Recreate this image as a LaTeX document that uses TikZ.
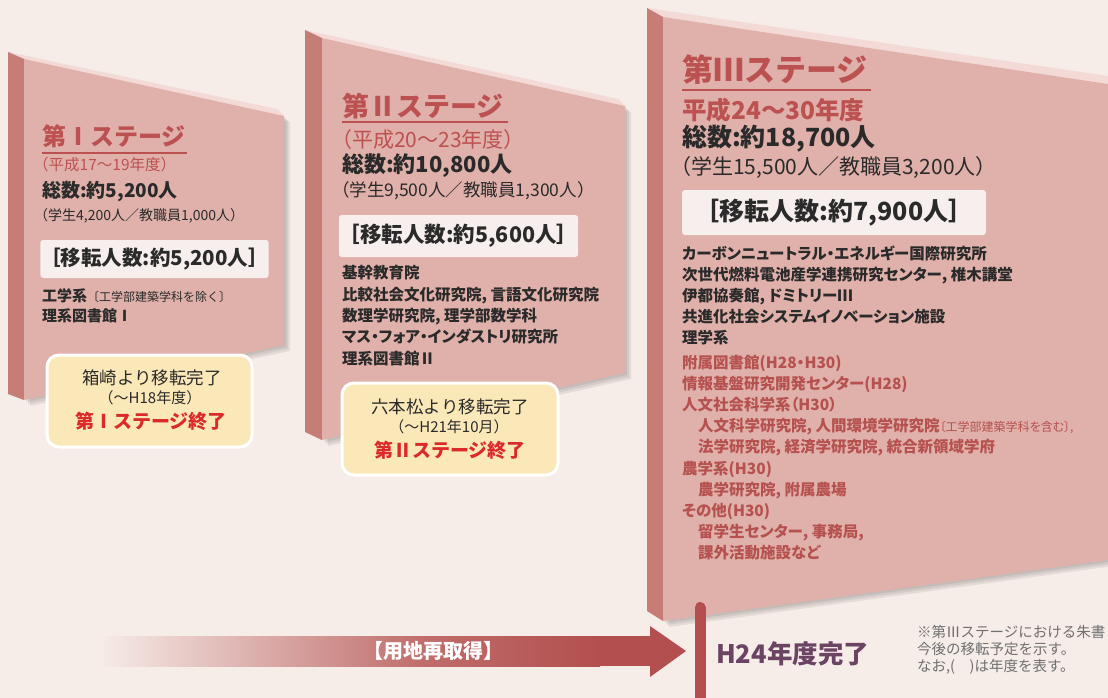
\documentclass[tikz,border=0pt]{standalone}
\usepackage{fontspec}
\setmainfont{Noto Sans CJK JP}
\usetikzlibrary{positioning}

\definecolor{bgpink}{HTML}{F6ECE8}
\definecolor{facepink}{HTML}{E0B0AA}
\definecolor{sidepink}{HTML}{C57D75}
\definecolor{rimpink}{HTML}{F3DAD6}
\definecolor{titlered}{HTML}{BC5151}
\definecolor{planred}{HTML}{B5514F}
\definecolor{inkdark}{HTML}{2A2A2A}
\definecolor{boxwhite}{HTML}{F7EFED}
\definecolor{doneyellow}{HTML}{FBE8B8}
\definecolor{donered}{HTML}{DA2A2A}
\definecolor{arrowred}{HTML}{B34F4F}
\definecolor{arrowmid}{HTML}{C06E6C}
\definecolor{barred}{HTML}{B54E4F}
\definecolor{finplum}{HTML}{6B4363}
\definecolor{notegray}{HTML}{707070}

\newcommand{\fsz}[2]{\fontsize{#1}{#2}\selectfont}
\newcommand{\prop}{\addfontfeatures{RawFeature=+palt}}

\begin{document}
\begin{tikzpicture}[x=1pt, y=-1pt, every node/.style={inner sep=0pt},
  side/.style={fill=sidepink}, front/.style={fill=facepink}, rim/.style={fill=rimpink},
  drop/.style={fill=black, opacity=0.07},
  txt/.style={anchor=west, text=inkdark},
  heading/.style={anchor=west, text=titlered},
  uline/.style={draw=titlered, line width=1.6pt},
  movebox/.style={fill=boxwhite, rounded corners=3pt, text=inkdark},
  donebox/.style={fill=doneyellow, draw=white, line width=3pt, rounded corners=12pt},
  donetxt/.style={text=inkdark},
  listblk/.style={anchor=north west, align=left, text=inkdark},
  planblk/.style={listblk, text=planred}]

\useasboundingbox (0,0) rectangle (1108,698);
\fill[bgpink] (0,0) rectangle (1108,698);

% slabs
\foreach \s in {2,4,6} {
  \fill[drop, shift={(\s,\s)}] (24,59) -- (284,116) -- (284,345) -- (24,400) -- cycle;
  \fill[drop, shift={(\s,\s)}] (322,38) -- (625,106) -- (625,373) -- (322,440) -- cycle;
  \fill[drop, shift={(\s,\s)}] (663,17) -- (1108,84) -- (1108,560) -- (663,621) -- cycle;
}
\fill[rim] (8,52) -- (277,109) -- (284,116) -- (24,59) -- cycle;
\fill[side] (8,52) -- (24,59) -- (24,400) -- (8,394) -- cycle;
\fill[front] (24,59) -- (284,116) -- (284,345) -- (24,400) -- cycle;

\fill[rim] (305,30) -- (618,99) -- (625,106) -- (322,38) -- cycle;
\fill[side] (305,30) -- (322,38) -- (322,440) -- (305,432) -- cycle;
\fill[front] (322,38) -- (625,106) -- (625,373) -- (322,440) -- cycle;

\fill[rim] (647,8) -- (1108,76) -- (1108,84) -- (663,17) -- cycle;
\fill[side] (647,8) -- (663,17) -- (663,621) -- (647,611) -- cycle;
\fill[front] (663,17) -- (1108,84) -- (1108,560) -- (663,621) -- cycle;

% stage I
\node[heading, font=\bfseries\fsz{24}{24}] (s1title) at (42,136) {第Ⅰステージ};
\draw[uline] (42,153) -- (187,153);
\node[heading, font=\fsz{15.5}{15.5}] (s1years) at (33,164.5) {（平成17～19年度）};
\node[txt, font=\bfseries\fsz{19}{19}] (s1total) at (42,191.5) {総数:約5,200人};
\node[txt, font=\fsz{14}{14}] (s1split) at (34,215.5) {（学生4,200人／教職員1,000人）};
\node[movebox, minimum width=225pt, minimum height=38pt, font=\bfseries\fsz{20.5}{20.5}] (s1move) at (154.5,259) {［移転人数:約5,200人］};
\node[listblk, font=\bfseries\fsz{15}{20}] (s1list) at (42,288) {工学系{\mdseries\fsz{12}{20}〔工学部建築学科を除く〕}\\理系図書館Ⅰ};
\node[donebox, minimum width=205pt, minimum height=92pt] (s1done) at (149.5,401) {};
\node[donetxt, font=\fsz{17.5}{17.5}] (s1from) at (152,378) {箱崎より移転完了};
\node[donetxt, font=\fsz{15}{15}] (s1when) at (150,398) {（～H18年度）};
\node[donetxt, text=donered, font=\bfseries\fsz{19}{19}] (s1end) at (151,421) {第Ⅰステージ終了};

% stage II
\node[heading, font=\bfseries\fsz{27}{27}] (s2title) at (342,106.5) {第Ⅱステージ};
\draw[uline] (342,122) -- (508,122);
\node[heading, font=\fsz{21}{21}] (s2years) at (331,140) {（平成20～23年度）};
\node[txt, font=\bfseries\fsz{22}{22}] (s2total) at (342,166) {総数:約10,800人};
\node[txt, font=\fsz{17.5}{17.5}] (s2split) at (332,190.5) {（学生9,500人／教職員1,300人）};
\node[movebox, minimum width=233pt, minimum height=42pt, font=\bfseries\fsz{21.5}{21.5}] (s2move) at (458.5,236) {［移転人数:約5,600人］};
\node[listblk, font=\bfseries\prop\fsz{15.5}{21.3}] (s2list) at (342,265.5) {基幹教育院\\比較社会文化研究院, 言語文化研究院\\数理学研究院, 理学部数学科\\マス・フォア・インダストリ研究所\\理系図書館Ⅱ};
\node[donebox, minimum width=216pt, minimum height=92pt] (s2done) at (450,429) {};
\node[donetxt, font=\fsz{17.5}{17.5}] (s2from) at (450,407) {六本松より移転完了};
\node[donetxt, font=\fsz{15}{15}] (s2when) at (449,427) {（～H21年10月）};
\node[donetxt, text=donered, font=\bfseries\fsz{19}{19}] (s2end) at (450,450) {第Ⅱステージ終了};

% stage III
\node[heading, font=\bfseries\fsz{31}{31}] (s3title) at (682,70) {第Ⅲステージ};
\draw[uline] (682,90) -- (871,90);
\node[heading, font=\bfseries\fsz{24.5}{24.5}] (s3years) at (682,110) {平成24～30年度};
\node[txt, font=\bfseries\fsz{25}{25}] (s3total) at (682,139) {総数:約18,700人};
\node[txt, font=\fsz{21}{21}] (s3split) at (670,168) {（学生15,500人／教職員3,200人）};
\node[movebox, minimum width=304pt, minimum height=45pt, font=\bfseries\fsz{25}{25}] (s3move) at (834,212.5) {［移転人数:約7,900人］};
\node[listblk, font=\bfseries\prop\fsz{15.5}{21}] (s3list) at (682,245.5) {カーボンニュートラル・エネルギー国際研究所\\次世代燃料電池産学連携研究センター, 椎木講堂\\伊都協奏館, ドミトリーⅢ\\共進化社会システムイノベーション施設\\理学系};
\node[planblk, font=\bfseries\prop\fsz{15.5}{21.2}] (s3plan) at (682,354.5) {附属図書館(H28・H30)\\情報基盤研究開発センター(H28)\\人文社会科学系（H30）\\
  \hspace*{16pt}人文科学研究院, 人間環境学研究院{\mdseries\fsz{12}{21}〔工学部建築学科を含む〕,}\\
  \hspace*{16pt}法学研究院, 経済学研究院, 統合新領域学府\\農学系(H30)\\
  \hspace*{16pt}農学研究院, 附属農場\\その他(H30)\\
  \hspace*{16pt}留学生センター, 事務局,\\\hspace*{16pt}課外活動施設など};

% site arrow
\shade[left color=bgpink, right color=arrowmid] (100,636) rectangle (420,666);
\shade[left color=arrowmid, right color=arrowred] (419,636) rectangle (600,666);
\fill[arrowred] (599,636) rectangle (651,666);
\fill[arrowred] (650,626) -- (686,651) -- (650,677) -- cycle;
\node[text=white, font=\bfseries\fsz{20}{20}] (site) at (433,651) {【用地再取得】};

% completion bar
\draw[barred, line width=11pt, line cap=round] (700,607.5) -- (700,720);
\node[txt, text=finplum, font=\bfseries\fsz{25.5}{25.5}] (fin) at (716,654) {H24年度完了};
\node[listblk, text=notegray, font=\fsz{14.5}{17}] (note) at (917,625) {※第Ⅲステージにおける朱書\\今後の移転予定を示す。\\なお,(\hspace{1em})は年度を表す。};
\end{tikzpicture}
\end{document}
